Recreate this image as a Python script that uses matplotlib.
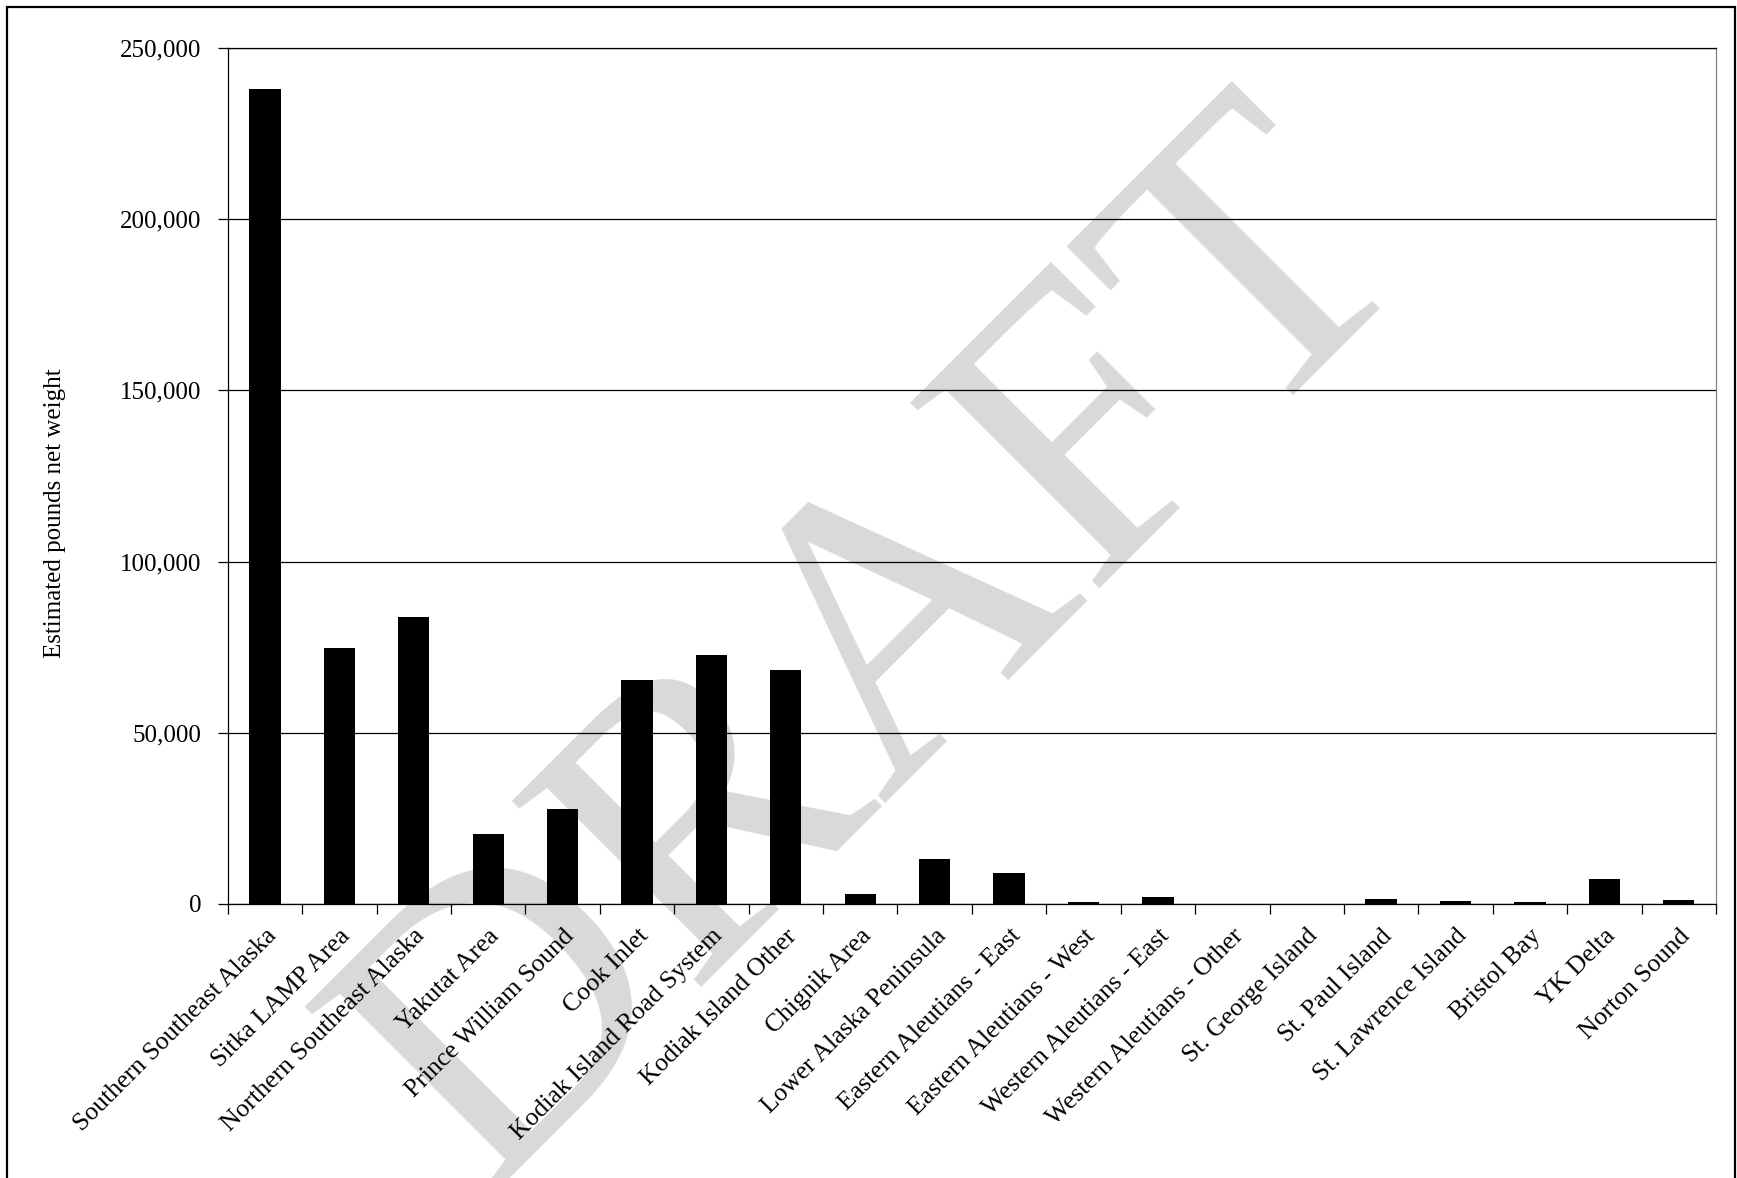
import matplotlib
matplotlib.use("Agg")
import matplotlib.pyplot as plt
from matplotlib.patches import Rectangle
from matplotlib.ticker import FuncFormatter

areas = ["Southern Southeast Alaska", "Sitka LAMP Area", "Northern Southeast Alaska",
         "Yakutat Area", "Prince William Sound", "Cook Inlet", "Kodiak Island Road System",
         "Kodiak Island Other", "Chignik Area", "Lower Alaska Peninsula",
         "Eastern Aleutians - East", "Eastern Aleutians - West", "Western Aleutians - East",
         "Western Aleutians - Other", "St. George Island", "St. Paul Island",
         "St. Lawrence Island", "Bristol Bay", "YK Delta", "Norton Sound"]
pounds = [238000, 74700, 83800, 20400, 27800, 65300, 72800, 68200, 3000, 13200,
          9100, 700, 2000, 0, 0, 1400, 950, 580, 7400, 1060]
yticks = [0, 50000, 100000, 150000, 200000, 250000]

plt.rcParams['font.family'] = ['Liberation Serif', 'DejaVu Serif']

fig = plt.figure(figsize=(17.37, 11.78), dpi=100)

# figure border
fig.patches.append(Rectangle((7/1737, -0.01), 1728/1737, 1 - 7/1178 + 0.01,
                             transform=fig.transFigure, fill=False,
                             edgecolor='black', linewidth=1.6, zorder=-2))

# DRAFT watermark behind the chart, anchored at the end of its baseline
fig.text(0.818, 0.7835, "DRAFT", fontsize=292, color='#d9d9d9',
         rotation=45, ha='right', va='baseline', rotation_mode='anchor', zorder=-1)

ax = fig.add_axes([0.1311, 0.2326, 0.8568, 0.7267])
ax.patch.set_alpha(0)

x = list(range(len(areas)))
ax.bar(x, pounds, width=0.42, color='black', zorder=3)

ax.set_xlim(-0.5, len(areas) - 0.5)
ax.set_ylim(0, 250000)
ax.set_yticks(yticks)
ax.yaxis.set_major_formatter(FuncFormatter(lambda v, p: f"{int(v):,}"))
ax.grid(axis='y', color='black', linewidth=0.9, zorder=1)

ax.set_xticks(x)
ax.set_xticklabels(areas, rotation=45, ha='right', va='top', rotation_mode='anchor')
ax.tick_params(axis='x', which='major', length=0, labelsize=18.5, pad=15)
ax.set_xticks([i - 0.5 for i in range(len(areas) + 1)], minor=True)
ax.tick_params(axis='x', which='minor', length=7, width=0.9, direction='out')
ax.tick_params(axis='y', length=7, width=0.9, labelsize=18, pad=12, direction='out')

for s in ['left', 'bottom', 'top']:
    ax.spines[s].set_color('black')
    ax.spines[s].set_linewidth(0.9)
ax.spines['right'].set_color('#808080')
ax.spines['right'].set_linewidth(0.9)

ax.set_ylabel("Estimated pounds net weight", fontsize=18)
ax.yaxis.set_label_coords(-0.1085, 0.457)

fig.savefig("out.png", dpi=100)
